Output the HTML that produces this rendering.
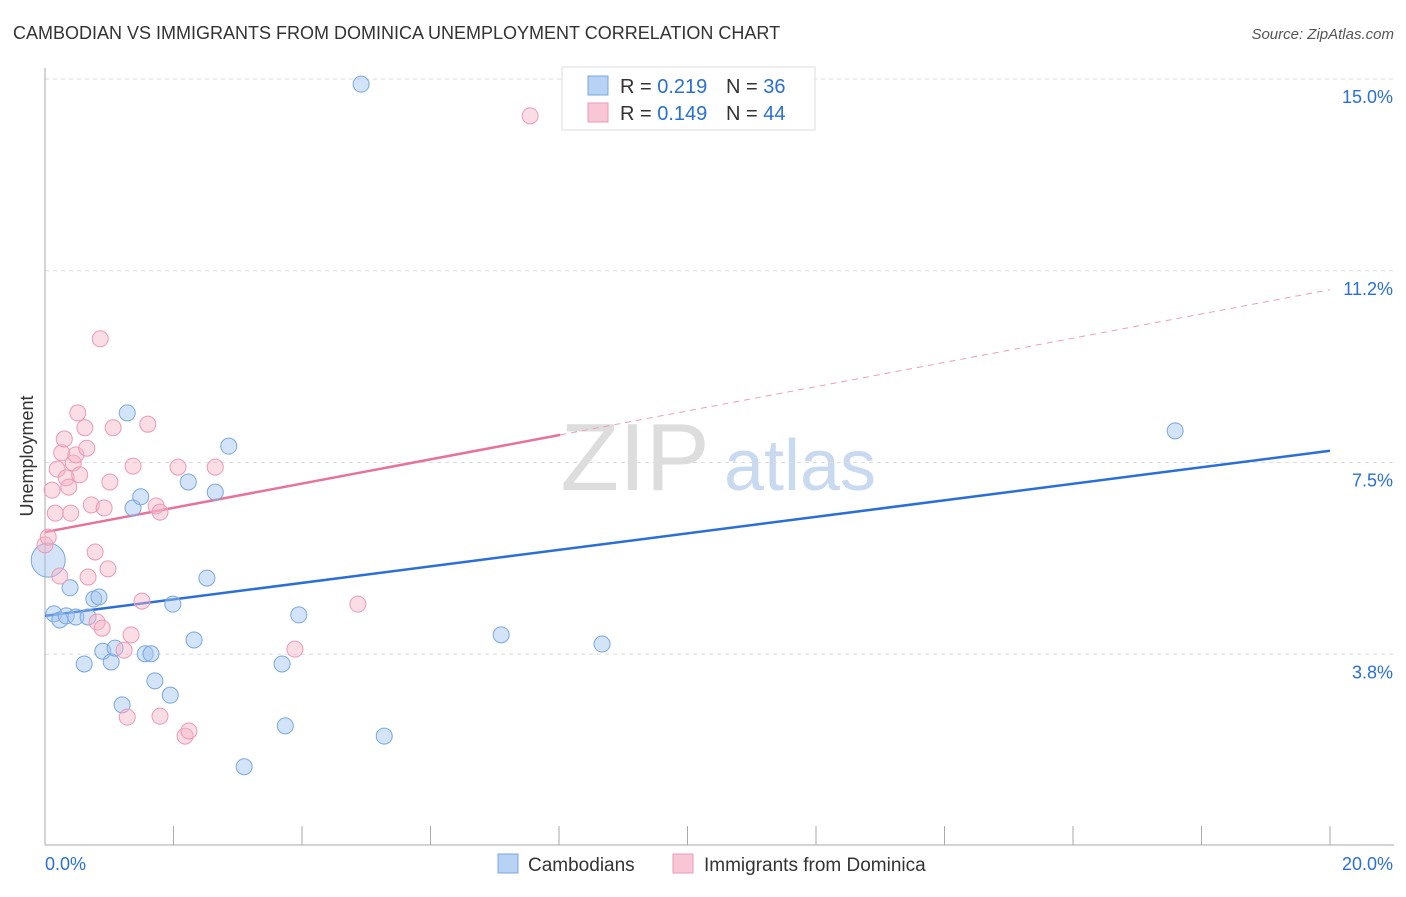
<!DOCTYPE html>
<html><head><meta charset="utf-8"><style>
body{margin:0;background:#fff;font-family:"Liberation Sans",sans-serif;}
svg text{font-family:"Liberation Sans",sans-serif;}
</style></head><body>
<svg id="chart" width="1406" height="892" xmlns="http://www.w3.org/2000/svg">
<text x="13" y="39" font-size="18" fill="#333">CAMBODIAN VS IMMIGRANTS FROM DOMINICA UNEMPLOYMENT CORRELATION CHART</text>
<text x="1394" y="39" font-size="15" fill="#555" text-anchor="end" font-style="italic">Source: ZipAtlas.com</text>
<text transform="translate(33,456) rotate(-90)" font-size="18" fill="#333" text-anchor="middle">Unemployment</text>
<g><text x="635" y="490" font-size="96" fill="#ddd" text-anchor="middle" font-family="Liberation Serif">ZIP</text><text x="800" y="490" font-size="72" fill="#c9d9f0" text-anchor="middle">atlas</text></g>
<g id="grid"></g><g id="axes"></g><g id="trends"></g><g id="points"></g>
<g>
<rect x="562" y="67" width="253" height="63" fill="#fff" stroke="#ddd"/>
<rect x="588" y="76" width="20" height="19" fill="#b7d2f5" stroke="#7aa7e0"/>
<rect x="588" y="103" width="20" height="19" fill="#f9c6d6" stroke="#ec9ab5"/>
<text x="620" y="93" font-size="20" fill="#333">R = <tspan fill="#2a6fd6">0.219</tspan></text>
<text x="726" y="93" font-size="20" fill="#333">N = <tspan fill="#2a6fd6">36</tspan></text>
<text x="620" y="120" font-size="20" fill="#333">R = <tspan fill="#2a6fd6">0.149</tspan></text>
<text x="726" y="120" font-size="20" fill="#333">N = <tspan fill="#2a6fd6">44</tspan></text>
</g>
<g>
<rect x="498" y="854" width="20" height="19" fill="#b7d2f5" stroke="#7aa7e0"/>
<text x="528" y="871" font-size="19" fill="#333">Cambodians</text>
<rect x="673" y="854" width="20" height="19" fill="#f9c6d6" stroke="#ec9ab5"/>
<text x="704" y="871" font-size="19" fill="#333">Immigrants from Dominica</text>
</g>
</svg>
<script>
const yTicks=[15.0,11.25,7.5,3.75];
const yTickLabels=["15.0%","11.2%","7.5%","3.8%"];
const xTicks=[0,2,4,6,8,10,12,14,16,18,20];
const blueX=[0.14,0.23,0.33,0.39,0.48,0.61,0.67,0.76,0.84,0.90,1.03,1.09,1.20,1.28,1.37,1.49,1.56,1.65,1.71,1.95,1.99,2.23,2.32,2.52,2.65,2.86,3.10,3.69,3.74,3.95,4.92,5.28,7.10,8.67,17.59,0.05];
const blueY=[4.54,4.42,4.50,5.05,4.48,3.56,4.48,4.83,4.87,3.81,3.60,3.87,2.76,8.47,6.61,6.83,3.76,3.76,3.23,2.95,4.73,7.12,4.03,5.24,6.92,7.82,1.55,3.56,2.35,4.52,14.90,2.15,4.13,3.95,8.12,5.59];
const pinkX=[0,0.05,0.11,0.16,0.19,0.23,0.26,0.30,0.33,0.37,0.40,0.44,0.48,0.51,0.54,0.62,0.65,0.67,0.72,0.78,0.81,0.86,0.89,0.92,0.98,1.01,1.06,1.23,1.28,1.34,1.37,1.51,1.60,1.73,1.79,1.79,2.07,2.18,2.24,2.65,3.89,4.87,7.55];
const pinkY=[5.89,6.04,6.96,6.51,7.37,5.28,7.69,7.96,7.20,7.02,6.51,7.49,7.65,8.47,7.26,8.18,7.78,5.26,6.67,5.75,4.38,9.92,4.26,6.61,5.42,7.12,8.18,3.83,2.52,4.13,7.43,4.79,8.25,6.65,6.53,2.54,7.41,2.15,2.25,7.41,3.85,4.73,14.28];
const blueTrend=[4.50,7.73];
const pinkTrend=[6.14,10.88];
const pinkSolidEnd=8.02;
const NS="http://www.w3.org/2000/svg";
const X=v=>45+v*64.25, Y=v=>846-v*51.13;
function mk(t,a,p){const e=document.createElementNS(NS,t);for(const k in a)e.setAttribute(k,a[k]);document.getElementById(p).appendChild(e);return e;}
yTicks.forEach((t,i)=>{
 const g=mk('line',{x1:45,x2:1394,y1:Y(t),y2:Y(t),stroke:'#ddd','stroke-dasharray':'4,4'},'grid');
 
 
 const l=mk('text',{x:1393,y:Y(t)+24,'font-size':18,fill:'#2a6fd6','text-anchor':'end'},'axes');l.textContent=yTickLabels[i];
 
 
});
const ax=mk('line',{x1:45,x2:1394,y1:845,y2:845,stroke:'#aaa'},'axes');


const ay=mk('line',{x1:45,x2:45,y1:68,y2:845,stroke:'#aaa'},'axes');


xTicks.forEach(t=>{const k=mk('line',{x1:X(t),x2:X(t),y1:826,y2:845,stroke:'#aaa'},'axes');
 
 });
const l0=mk('text',{x:45,y:870,'font-size':18,fill:'#2a6fd6'},'axes');l0.textContent="0.0%";


const l1=mk('text',{x:1393,y:870,'font-size':18,fill:'#2a6fd6','text-anchor':'end'},'axes');l1.textContent="20.0%";


blueX.forEach((x,i)=>{const c=mk('circle',{cx:X(x),cy:Y(blueY[i]),r:i===35?17:8,fill:'rgba(160,196,240,0.45)',stroke:'#7aa7e0','stroke-width':1},'points');
 
 });
pinkX.forEach((x,i)=>{const c=mk('circle',{cx:X(x),cy:Y(pinkY[i]),r:8,fill:'rgba(247,180,200,0.45)',stroke:'#ec9ab5','stroke-width':1},'points');
 
 });
const bt=mk('line',{x1:X(0),y1:Y(blueTrend[0]),x2:X(20),y2:Y(blueTrend[1]),stroke:'#2a6fd6','stroke-width':2.5},'trends');


const pm=pinkTrend[0]+(pinkTrend[1]-pinkTrend[0])*pinkSolidEnd/20;
const pt=mk('line',{x1:X(0),y1:Y(pinkTrend[0]),x2:X(pinkSolidEnd),y2:Y(pm),stroke:'#e8739a','stroke-width':2.5},'trends');


const pd=mk('line',{x1:X(pinkSolidEnd),y1:Y(pm),x2:X(20),y2:Y(pinkTrend[1]),stroke:'#eaa0b8','stroke-width':1,'stroke-dasharray':'6,5'},'trends');


</script>
</body></html>
